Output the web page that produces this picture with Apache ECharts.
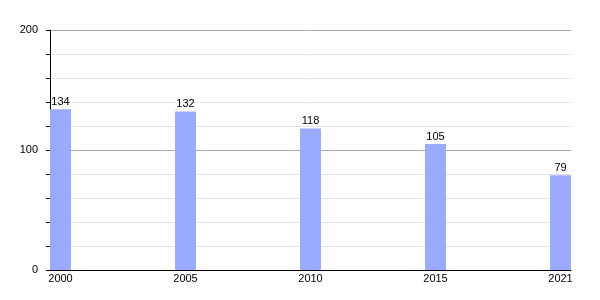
<!DOCTYPE html>
<html><head><meta charset="utf-8">
<script src="https://cdn.jsdelivr.net/npm/echarts@6/dist/echarts.min.js"></script>
<style>html,body{margin:0;padding:0;background:#fff}#c{width:600px;height:300px}</style>
</head><body><div id="c"></div>
<script>
const years = ['2000', '2005', '2010', '2015', '2021'];
const values = [134, 132, 118, 105, 79];
const yTickLabels = [0, 100, 200];

const chart = echarts.init(document.getElementById('c'), null, {renderer: 'canvas'});
const half = 10.5 / 125;
chart.setOption({
  animation: false,
  grid: {left: 50, right: 29, top: 30, bottom: 30},
  xAxis: {
    type: 'value', min: -half, max: years.length - 1 + half,
    axisLine: {show: true, onZero: false, lineStyle: {color: '#000', width: 1}},
    axisTick: {show: false},
    splitLine: {show: false},
    axisLabel: {
      customValues: years.map((_, i) => i),
      formatter: v => years[Math.round(v)],
      color: '#000', fontSize: 11, margin: 3, fontFamily: 'Liberation Sans'
    }
  },
  yAxis: {
    type: 'value', min: 0, max: 200, interval: 20,
    axisLine: {show: true, onZero: false, lineStyle: {color: '#000', width: 1}},
    axisTick: {show: true, length: 4, lineStyle: {color: '#000'}},
    axisLabel: {
      formatter: v => yTickLabels.includes(v) ? String(v) : '',
      color: '#000', fontSize: 11, margin: 12, fontFamily: 'Liberation Sans'
    },
    splitLine: {show: true, lineStyle: {color: ['#aaaaaa', '#e4e4e4', '#e4e4e4', '#e4e4e4', '#e4e4e4'], width: 1}}
  },
  series: [{
    type: 'bar',
    data: values.map((v, i) => [i, v]),
    barWidth: 21,
    itemStyle: {color: '#99aaff'},
    label: {show: true, position: 'top', distance: 2, color: '#000', fontSize: 11, fontFamily: 'Liberation Sans'}
  }]
});
</script></body></html>
